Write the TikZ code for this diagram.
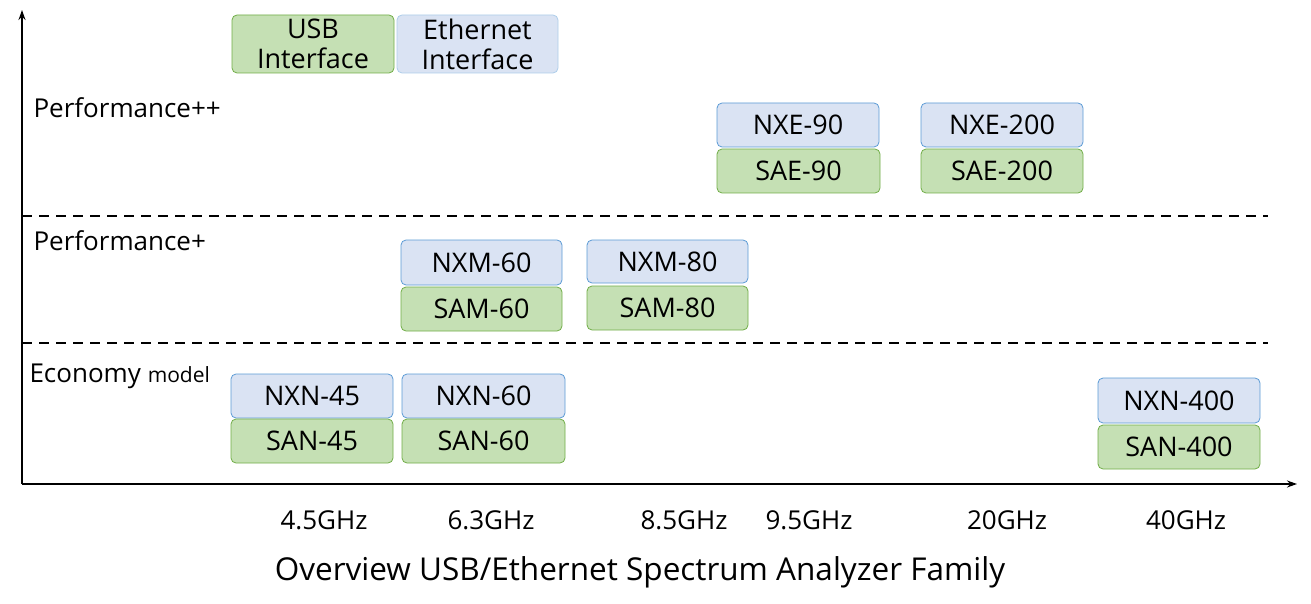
\documentclass[tikz,border=0pt]{standalone}
\usepackage{fontspec}
\setmainfont{Open Sans}
\usetikzlibrary{arrows.meta}
\definecolor{bfill}{HTML}{DAE3F3}
\definecolor{bdraw}{HTML}{5B9BD5}
\definecolor{gfill}{HTML}{C5E0B4}
\definecolor{gdraw}{HTML}{70AD47}
\begin{document}
\begin{tikzpicture}[x=1pt,y=-1pt,
  box/.style={rounded corners=5pt,line width=0.8pt,font=\fontsize{27}{30}\selectfont,align=center},
  bl/.style={box,fill=bfill,draw=bdraw},
  gr/.style={box,fill=gfill,draw=gdraw},
  lab/.style={font=\fontsize{26}{30}\selectfont},
  ax/.style={line width=1.5pt,-{Stealth[length=10pt,width=7pt]}}]
\useasboundingbox (0,0) rectangle (1311,604);
\newcommand{\bt}[7]{\draw[#1] (#2,#3) rectangle (#4,#5); \node[box] (#6) at ({(#2+#4)/2},{(#3+#5)/2}) {#7};}
\bt{gr}{232}{15}{394}{73}{usb}{USB\\Interface}
\bt{bl,draw=bdraw!50}{397}{15}{558}{73}{eth}{Ethernet\\Interface}
\bt{bl}{717}{103}{879}{147}{nxe90}{NXE-90}
\bt{gr}{717}{149}{880}{193}{sae90}{SAE-90}
\bt{bl}{921}{103}{1083}{147}{nxe200}{NXE-200}
\bt{gr}{921}{149}{1083}{193}{sae200}{SAE-200}
\bt{bl}{401}{240}{562}{285}{nxm60}{NXM-60}
\bt{gr}{401}{287}{562}{331}{sam60}{SAM-60}
\bt{bl}{587}{240}{748}{283}{nxm80}{NXM-80}
\bt{gr}{587}{286}{748}{330}{sam80}{SAM-80}
\bt{bl}{231}{374}{393}{418}{nxn45}{NXN-45}
\bt{gr}{231}{419}{393}{463}{san45}{SAN-45}
\bt{bl}{402}{374}{565}{418}{nxn60}{NXN-60}
\bt{gr}{402}{419}{565}{463}{san60}{SAN-60}
\bt{bl}{1098}{378}{1260}{423}{nxn400}{NXN-400}
\bt{gr}{1098}{425}{1260}{469}{san400}{SAN-400}
\coordinate (o) at (22,484);
\coordinate (ytop) at (22,10);
\coordinate (xend) at (1297,484);
\draw[ax] (o) -- (ytop);
\draw[ax] (o) -- (xend);
\coordinate (d1a) at (22,216); \coordinate (d1b) at (1268,216);
\coordinate (d2a) at (22,343); \coordinate (d2b) at (1268,343);
\draw[line width=2pt,dash pattern=on 10pt off 7pt] (d1a) -- (d1b);
\draw[line width=2pt,dash pattern=on 10pt off 7pt] (d2a) -- (d2b);
\node[lab,anchor=west] (pp) at (30,108) {Performance++};
\node[lab,anchor=west] (p) at (30,241) {Performance+};
\node[lab,anchor=west] (eco) at (26,376) {Economy {\fontsize{21}{24}\selectfont model}};
\node[lab] (f1) at (324,520) {4.5GHz};
\node[lab] (f2) at (491,520) {6.3GHz};
\node[lab] (f3) at (684,520) {8.5GHz};
\node[lab] (f4) at (809,520) {9.5GHz};
\node[lab] (f5) at (1007,520) {20GHz};
\node[lab] (f6) at (1186,520) {40GHz};
\node[font=\fontsize{31.5}{36}\selectfont] (title) at (640,572) {Overview USB/Ethernet Spectrum Analyzer Family};
\end{tikzpicture}
\end{document}
